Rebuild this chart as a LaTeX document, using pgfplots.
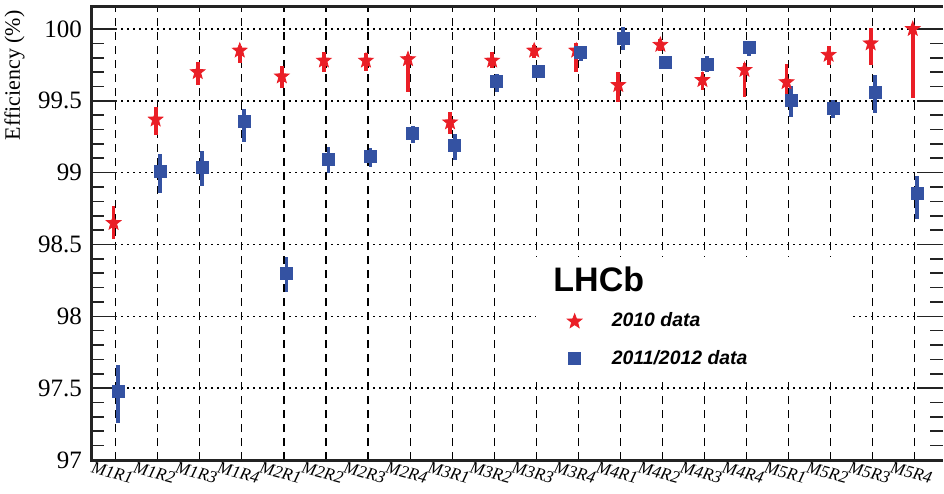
\documentclass[border=0pt]{standalone}
\usepackage{pgfplots}
\pgfplotsset{compat=1.18}
\usepackage{pgfplotstable}
\usepackage{fontspec}
\setmainfont{Liberation Serif}
\newfontfamily\hv{Liberation Sans}
\definecolor{sred}{RGB}{234,30,38}
\definecolor{sblue}{RGB}{52,82,162}
\definecolor{frame}{RGB}{35,35,35}

\pgfdeclareplotmark{fstar}{%
  \pgfpathmoveto{\pgfpointpolar{90}{\pgfplotmarksize}}%
  \pgfpathlineto{\pgfpointpolar{126}{0.42\pgfplotmarksize}}%
  \pgfpathlineto{\pgfpointpolar{162}{\pgfplotmarksize}}%
  \pgfpathlineto{\pgfpointpolar{198}{0.42\pgfplotmarksize}}%
  \pgfpathlineto{\pgfpointpolar{234}{\pgfplotmarksize}}%
  \pgfpathlineto{\pgfpointpolar{270}{0.42\pgfplotmarksize}}%
  \pgfpathlineto{\pgfpointpolar{306}{\pgfplotmarksize}}%
  \pgfpathlineto{\pgfpointpolar{342}{0.42\pgfplotmarksize}}%
  \pgfpathlineto{\pgfpointpolar{18}{\pgfplotmarksize}}%
  \pgfpathlineto{\pgfpointpolar{54}{0.42\pgfplotmarksize}}%
  \pgfpathclose
  \pgfusepathqfillstroke}

\pgfplotstableread{
x y ep em
-0.05 98.65 0.12 0.11
0.95 99.37 0.09 0.11
1.95 99.70 0.07 0.09
2.95 99.85 0.03 0.09
3.95 99.67 0.07 0.08
4.95 99.78 0.06 0.08
5.95 99.78 0.05 0.07
6.95 99.79 0.03 0.23
7.95 99.35 0.07 0.08
8.95 99.78 0.06 0.05
9.95 99.85 0.04 0.05
10.95 99.85 0.05 0.15
11.95 99.61 0.09 0.12
12.95 99.89 0.04 0.04
13.95 99.645 0.055 0.07
14.95 99.715 0.045 0.185
15.95 99.63 0.125 0.125
16.95 99.82 0.06 0.07
17.95 99.90 0.11 0.15
18.95 100.00 0.03 0.48
}\tenstar

\pgfplotstableread{
x y ep em
0.06 97.48 0.18 0.22
1.06 99.01 0.12 0.15
2.06 99.04 0.11 0.13
3.06 99.355 0.085 0.145
4.06 98.30 0.11 0.13
5.06 99.09 0.09 0.09
6.06 99.115 0.055 0.075
7.06 99.275 0.05 0.07
8.06 99.19 0.08 0.10
9.06 99.633 0.055 0.07
10.06 99.703 0.02 0.02
11.06 99.835 0.045 0.055
12.06 99.935 0.08 0.08
13.06 99.766 0.02 0.02
14.06 99.754 0.055 0.055
15.06 99.87 0.04 0.06
16.06 99.506 0.10 0.12
17.06 99.448 0.06 0.07
18.06 99.557 0.12 0.14
19.06 98.857 0.12 0.18
}\elevenstar

\begin{document}
\begin{tikzpicture}
\begin{axis}[
  name=ax,
  scale only axis,
  width=426pt, height=226.5pt,
  xmin=-0.587, xmax=19.67,
  ymin=97, ymax=100.153,
  xtick={0,1,...,19},
  xticklabels={M1R1,M1R2,M1R3,M1R4,M2R1,M2R2,M2R3,M2R4,M3R1,M3R2,M3R3,M3R4,M4R1,M4R2,M4R3,M4R4,M5R1,M5R2,M5R3,M5R4},
  ytick={97,97.5,98,98.5,99,99.5,100},
  yticklabels={97,97.5,98,98.5,99,99.5,100},
  minor y tick num=4,
  axis line style={draw=none},
  xmajorgrids, ymajorgrids,
  x grid style={black, line width=0.6pt, dash pattern=on 4pt off 3pt},
  y grid style={black, line width=0.7pt, dash pattern=on 1pt off 2pt},
  tick align=inside,
  xtick style={draw=none},
  ytick style={frame, line width=0.8pt},
  major tick length=13pt,
  minor tick length=6.5pt,
  yticklabel style={font=\rmfamily\fontsize{12.5}{14}\selectfont, xshift=-1pt},
  xticklabel style={font=\rmfamily\itshape\fontsize{8.6}{10}\selectfont, rotate=-15, anchor=north, inner sep=1.5pt, yshift=-2pt},
  clip=false,
  legend style={at={(rel axis cs:0.5587,0.3344)}, anchor=north west, draw=none, fill=none,
    font=\hv\bfseries\itshape\fontsize{9.7}{12}\selectfont, row sep=6pt, inner sep=0pt,
    /tikz/every odd column/.append style={column sep=13pt}},
  legend cell align=left,
]
\addplot[only marks, mark=fstar, mark size=3.8pt, color=sred,
  error bars/.cd, y dir=both, y explicit, error mark=none,
  error bar style={line width=1.9pt, sred}]
  table[x=x, y=y, y error plus=ep, y error minus=em]{\tenstar};
\addlegendentry{2010 data}
\addplot[only marks, mark=square*, mark size=3pt, color=sblue,
  error bars/.cd, y dir=both, y explicit, error mark=none,
  error bar style={line width=1.9pt, sblue}]
  table[x=x, y=y, y error plus=ep, y error minus=em]{\elevenstar};
\addlegendentry{2011/2012 data}
\fill[white] (rel axis cs:0.5223,0.4481) rectangle (rel axis cs:0.8944,0.181);
\node[anchor=base west, inner sep=0pt, font=\hv\bfseries\fontsize{17}{20}\selectfont] at (rel axis cs:0.5423,0.3709) {LHCb};
\draw[line width=1.5pt, frame, line join=miter] (rel axis cs:1,1) -- (rel axis cs:0,1) -- (rel axis cs:0,0) -- (rel axis cs:1,0);
\end{axis}
\node[rotate=90, anchor=south east, inner sep=0pt, font=\rmfamily\fontsize{11}{13}\selectfont] at ([xshift=-33pt,yshift=-1.5pt]ax.north west) {Efficiency (\%)};
\pgfresetboundingbox
\path[use as bounding box] ([shift={(-45.5pt,-16.5pt)}]ax.south west) rectangle ([shift={(0.5pt,3.5pt)}]ax.north east);
\end{tikzpicture}
\end{document}
